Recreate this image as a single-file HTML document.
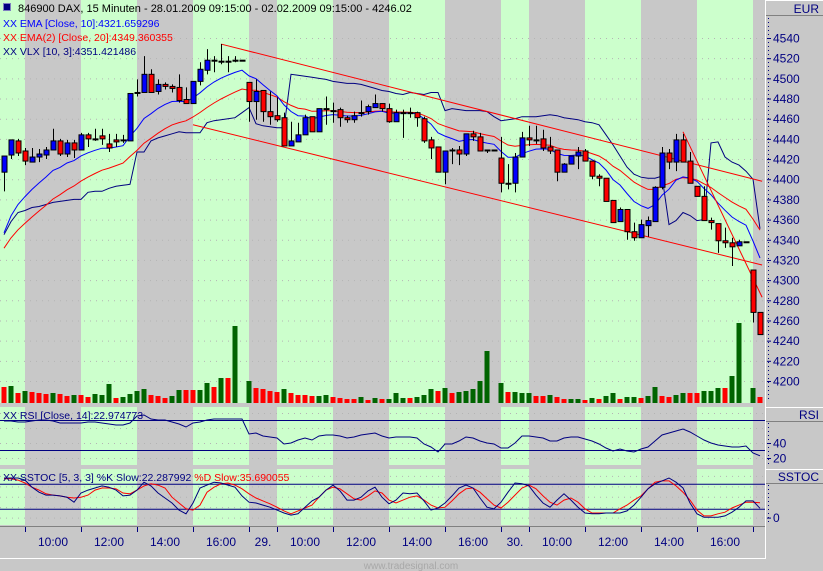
<!DOCTYPE html>
<html><head><meta charset="utf-8">
<style>
body{margin:0;width:823px;height:571px;overflow:hidden;background:#c8c8c8;font-family:"Liberation Sans",Arial,sans-serif;}
svg{display:block}
</style></head>
<body>
<svg id="chart" width="823" height="571" xmlns="http://www.w3.org/2000/svg"></svg>
<script>
const opens=[4407,4424,4438,4428,4417,4422,4424,4429,4438,4425,4436,4429,4444,4440,4443,4435,4439,4439,4438,4486,4486,4504,4487,4494,4492,4491,4479,4475,4497,4508,4518,4517,4517,4518,4518,4496,4477,4488,4467,4463,4461,4433,4437,4444,4462,4447,4470,4468,4469,4461,4459,4466,4467,4471,4475,4470,4457,4466,4466,4466,4460,4439,4432,4407,4429,4429,4425,4445,4442,4429,4429,4421,4396,4396,4422,4441,4439,4440,4432,4429,4407,4415,4423,4428,4418,4403,4401,4379,4358,4370,4348,4342,4354,4358,4392,4426,4417,4439,4418,4393,4383,4359,4356,4339,4337,4334,4338,4310,4268];
const highs=[4423,4439,4440,4431,4431,4430,4432,4450,4440,4439,4439,4446,4446,4450,4450,4445,4445,4444,4485,4499,4522,4509,4499,4496,4494,4504,4491,4497,4516,4529,4522,4534,4522,4522,4518,4496,4499,4488,4487,4481,4466,4457,4456,4464,4462,4470,4482,4476,4471,4463,4467,4478,4474,4484,4475,4475,4469,4469,4471,4467,4462,4442,4432,4428,4431,4433,4445,4448,4446,4429,4429,4442,4415,4426,4447,4453,4453,4449,4442,4429,4416,4423,4432,4430,4418,4405,4401,4379,4372,4370,4357,4360,4363,4393,4432,4430,4445,4445,4427,4393,4393,4362,4356,4352,4342,4340,4338,4310,4268];
const lows=[4388,4420,4423,4414,4417,4417,4420,4429,4423,4422,4421,4429,4432,4438,4434,4427,4432,4436,4438,4482,4486,4486,4484,4489,4486,4476,4475,4475,4493,4504,4506,4514,4506,4516,4518,4457,4459,4457,4454,4457,4433,4433,4437,4444,4447,4447,4454,4456,4452,4456,4456,4462,4464,4471,4467,4456,4457,4441,4461,4452,4436,4420,4407,4395,4415,4414,4423,4438,4428,4426,4429,4387,4390,4387,4422,4433,4435,4428,4425,4398,4407,4415,4410,4418,4400,4393,4378,4357,4358,4340,4339,4342,4343,4358,4390,4410,4408,4417,4396,4383,4359,4350,4327,4332,4314,4334,4338,4258,4246];
const closes=[4423,4439,4426,4418,4422,4425,4429,4438,4425,4436,4429,4444,4440,4440,4440,4431,4437,4439,4485,4486,4504,4486,4494,4492,4490,4478,4475,4497,4509,4518,4518,4517,4517,4518,4518,4477,4487,4467,4462,4459,4433,4438,4444,4461,4447,4470,4470,4468,4461,4459,4463,4466,4472,4475,4470,4457,4466,4466,4466,4461,4438,4431,4407,4428,4429,4425,4445,4442,4428,4429,4429,4396,4396,4422,4441,4439,4439,4431,4428,4407,4415,4423,4427,4418,4403,4401,4378,4357,4370,4348,4342,4355,4359,4392,4426,4417,4439,4417,4396,4383,4359,4357,4339,4337,4333,4338,4338,4268,4246];
const volumes=[1600,1700,1000,1200,1100,1000,900,1000,900,700,800,800,600,900,800,1900,500,600,900,1200,1400,800,700,500,700,1300,1300,1300,1300,2000,1600,2500,2500,7700,0,2200,1500,1400,1200,1100,1400,1000,800,800,700,700,800,600,500,400,400,600,300,500,400,400,1000,500,500,600,800,1400,1200,1500,1000,1100,1200,1400,2200,5200,0,2000,1100,1100,1000,1000,700,700,800,600,400,400,400,300,500,400,700,1000,400,600,600,500,700,1600,700,600,800,1000,1000,1000,1200,1200,1500,1500,2700,8000,0,1500,600];
const volUp=[0,1,0,1,0,0,0,1,0,0,1,0,0,1,1,1,0,1,1,1,1,0,0,0,1,1,0,0,1,1,0,1,0,1,0,1,0,0,0,0,1,0,0,0,0,1,1,0,0,0,0,1,0,1,0,1,1,1,0,1,1,1,0,1,0,1,1,1,1,1,0,1,0,1,1,1,0,0,1,0,0,1,1,0,1,0,1,1,0,1,1,0,1,1,0,0,1,1,0,0,1,1,1,0,1,1,0,1,0];
const vlx=[4345,4358,4367,4369,4372,4373,4375,4377,4378,4379,4380,4380,4387,4388,4388,4391,4393,4394,4395,4427,4427,4438,4441,4443,4445,4447,4446,4446,4446,4456,4458,4459,4460,4461,4466,4471,4455,4453,4452,4451,4451,4504,4503,4502,4501,4500,4499,4497,4496,4495,4495,4494,4492,4490,4488,4487,4485,4484,4486,4485,4484,4486,4486,4468,4470,4469,4468,4468,4468,4467,4462,4458,4459,4460,4462,4462,4462,4463,4464,4463,4461,4460,4459,4457,4456,4454,4444,4434,4423,4412,4405,4402,4401,4401,4403,4355,4359,4367,4364,4359,4360,4436,4437,4422,4417,4414,4408,4400,4351];
const rsi=[69.3,69.3,68,68,69.3,70.7,70.7,69.3,66.7,66.7,66.7,66.7,68,68,66.7,65.3,64,64,66.7,76,77.3,72,70.7,70.7,68,65.3,61.3,66.7,68,70.7,72,72,72,72,72,52,53.3,49.3,48,46.7,38.7,40,44,46.7,44,49.3,50.7,50.7,49.3,46.7,48,50.7,52,53.3,49.3,46.7,48,48,48,46.7,38.7,34.7,28,38.7,38.7,42.7,48,46.7,42.7,40,38.7,33.3,33.3,40,49.3,49.3,48,46.7,42.7,42.7,46.7,48,48,45.3,42.7,38.7,33.3,29.3,32,29.3,28,32,34.7,42.7,50.7,53.3,56,58.7,54.7,49.3,44,40,37.3,36,34.7,34.7,36,26.7,23];
const stochK=[95,95,95,90,73,61,54,54,52,49,37,59,66,71,76,73,66,52,54,66,85,76,59,47,35,18,9,35,71,78,85,83,78,73,52,37,35,30,25,18,11,6,9,25,40,49,66,78,64,42,42,49,64,73,49,33,42,59,57,59,40,18,23,35,52,71,78,71,47,25,21,37,61,83,81,76,54,35,25,42,57,42,25,11,9,9,11,11,11,16,30,49,69,81,88,95,85,71,35,9,1,1,1,4,13,25,40,40,22.3];
const stochD=[93,93,90,83,73,66,57,54,52,49,47,49,54,66,71,71,69,59,57,66,76,81,78,71,49,35,21,18,30,61,73,81,83,78,69,57,47,40,33,25,16,9,16,23,30,49,66,73,69,57,45,42,52,64,59,42,35,42,49,52,42,30,23,25,40,57,69,71,61,45,30,23,37,54,71,78,69,52,37,30,42,47,37,21,11,11,11,11,21,30,42,52,69,85,88,88,76,61,42,18,4,4,9,13,23,30,37,37,35.7];
const priceTicks=[4540,4520,4500,4480,4460,4440,4420,4400,4380,4360,4340,4320,4300,4280,4260,4240,4220,4200];
const sessionBreaks=[3,11,19,27,35,39,47,55,63,71,75,83,91,99,107];
const timeLabels=["10:00","12:00","14:00","16:00","29.","10:00","12:00","14:00","16:00","30.","10:00","12:00","14:00","16:00"];
const upperChannel=[31,4534,108.3,4398];
const lowerChannel=[27,4454,108.3,4315];
const steepLine=[97,4447,108.3,4283];

const NS="http://www.w3.org/2000/svg";
const svg=document.getElementById('chart');
function mk(tag,parent){const e=document.createElementNS(NS,tag);(parent||svg).appendChild(e);return e;}
function set(e,o){for(const k in o)e.setAttribute(k,o[k]);return e;}
const xOf=i=>4+7*i;
const yP=p=>38+(4540-p)*1.0088;
const yV=v=>403-v/100;
const yR=v=>473-0.75*v;
const yS=v=>517.6-0.417*v;
const PLOT_R=765;

const panels=[[0,403],[407,465],[469,525]];
let bounds=[0].concat(sessionBreaks.map(b=>xOf(b))).concat([PLOT_R]);
panels.forEach(([t,b])=>{
  for(let k=0;k<bounds.length-1;k++){
    const r=mk('rect');
    
    
    set(r,{x:bounds[k],y:t,width:bounds[k+1]-bounds[k],height:b-t,fill:k%2===0?'#ccffcc':'#c8c8c8'});
  }
});
function hgrid(y){const l=mk('line');
  
  
  set(l,{x1:0,x2:PLOT_R,y1:y,y2:y,stroke:'#b4b4b4','stroke-dasharray':'1,5'});}
priceTicks.forEach(p=>hgrid(yP(p)+0.5));
[80,60,40,20].forEach(v=>hgrid(yR(v)+0.5));
[0,25,50,75,100].forEach(v=>hgrid(yS(v)+0.5));

volumes.forEach((v,i)=>{ if(!v)return; const r=mk('rect');
  
  
  set(r,{x:xOf(i)-2.5,y:yV(v),width:5,height:403-yV(v),fill:volUp[i]?'#006400':'#ff0000'});});

function poly(vals,yf,color,name,w){const pts=vals.map((v,i)=>xOf(i)+','+yf(v).toFixed(1)).join(' ');
  const p=mk('polyline');
  
  
  set(p,{points:pts,fill:'none',stroke:color,'stroke-width':w||1});}
function ema(vals,n,seed){let e=seed;return vals.map(c=>{e=e+(c-e)*2/(n+1);return e;});}
const ema10=ema(closes,10,4330), ema20=ema(closes,20,4322);
poly(vlx,yP,'#000080','vlx-line');
poly(ema20,yP,'#ff0000','ema20-line');
poly(ema10,yP,'#0000ff','ema10-line');
function tl(a,name){const l=mk('line');
  
  
  set(l,{x1:xOf(a[0]),y1:yP(a[1]),x2:xOf(a[2]),y2:yP(a[3]),stroke:'#ff0000','stroke-width':1});}
tl(upperChannel,'upper-channel-line');tl(lowerChannel,'lower-channel-line');tl(steepLine,'steep-trend-line');

closes.forEach((c,i)=>{const o=opens[i],x=xOf(i);
  const w=mk('line');
  
  
  set(w,{x1:x+0.5,x2:x+0.5,y1:yP(highs[i]),y2:yP(lows[i]),stroke:'#000'});
  if(Math.abs(o-c)<1){const d=mk('line');
    
    
    set(d,{x1:x-2.5,x2:x+3.5,y1:yP(c)+0.5,y2:yP(c)+0.5,stroke:'#000','stroke-width':2});}
  else{const r=mk('rect');
    
    
    const t=yP(Math.max(o,c)),b=yP(Math.min(o,c));
    set(r,{x:x-2,y:t,width:5,height:b-t,fill:c>o?'#0000ff':'#ff0000',stroke:'#000','stroke-width':1});}
});

[[70,'rsi-upper-level'],[30,'rsi-lower-level']].forEach(([v,n])=>{const l=mk('line');
  
  
  set(l,{x1:0,x2:PLOT_R,y1:yR(v),y2:yR(v),stroke:'#000080'});});
[[80,'stoch-upper-level'],[20,'stoch-lower-level']].forEach(([v,n])=>{const l=mk('line');
  
  
  set(l,{x1:0,x2:PLOT_R,y1:yS(v),y2:yS(v),stroke:'#000080'});});
poly(rsi,yR,'#000080','rsi-line');
poly(stochD,yS,'#ff0000','stoch-d-line');
poly(stochK,yS,'#000080','stoch-k-line');

function txt(s,x,y,opt){const t=mk('text');t.textContent=s;
  set(t,Object.assign({x:x,y:y,'font-family':'"Liberation Sans",Arial,sans-serif','font-size':12,fill:'#000080'},opt||{}));return t;}
const ra=mk('rect');


set(ra,{x:766,y:0,width:57,height:571,fill:'#c8c8c8'});
[[0,16,'EUR','price-axis-title'],[407,422,'RSI','rsi-axis-title'],[469,484,'SSTOC','sstoc-axis-title']].forEach(([t,b,s,n])=>{
  const l=mk('line');
  
  
  set(l,{x1:766,x2:823,y1:b-0.5,y2:b-0.5,stroke:'#808080'});
  const l2=mk('line');
  
  
  set(l2,{x1:766,x2:823,y1:t+0.5,y2:t+0.5,stroke:'#ffffff'});
  const tt=txt(s,819,b-3,{'text-anchor':'end','font-size':12});
  
  
});
const vl=mk('line');


set(vl,{x1:765.5,x2:765.5,y1:0,y2:558,stroke:'#ffffff'});
[[18,401],[423,464],[485,524]].forEach(([a,b])=>{const d=mk('line');
  
  
  set(d,{x1:768.5,x2:768.5,y1:a,y2:b,stroke:'#000080','stroke-dasharray':'1,3'});});
function atick(y,s,n){const l=mk('line');
  
  
  set(l,{x1:767,x2:771,y1:y+0.5,y2:y+0.5,stroke:'#000080'});
  const t=txt(s,773,y+4.5);
  
  }
priceTicks.forEach(p=>atick(yP(p),String(p),'price-tick-label'));
[40,20].forEach(v=>atick(yR(v),String(v),'rsi-tick-label'));
atick(yS(0),'0','sstoc-tick-label');

const ta=mk('line');


set(ta,{x1:0,x2:PLOT_R,y1:526.5,y2:526.5,stroke:'#808080'});
sessionBreaks.forEach(b=>{const l=mk('line');
  
  
  set(l,{x1:xOf(b)+0.5,x2:xOf(b)+0.5,y1:527,y2:532,stroke:'#000080'});});
timeLabels.forEach((s,k)=>{const x=(xOf(sessionBreaks[k])+xOf(sessionBreaks[k+1]))/2;
  const t=txt(s,x,546,{'text-anchor':'middle'});
  
  });
const bl=mk('line');


set(bl,{x1:0,x2:766,y1:558.5,y2:558.5,stroke:'#ffffff'});
const wm=txt('www.tradesignal.com',411,569,{'text-anchor':'middle',fill:'#a8a8a8','font-size':10});



const ic=mk('rect');


set(ic,{x:3.5,y:3.5,width:7,height:7,fill:'#000080',stroke:'#8080c0'});
const h=txt('846900  DAX, 15 Minuten - 28.01.2009 09:15:00 - 02.02.2009 09:15:00 - 4246.02',18,12,{fill:'#000','font-size':11,'xml:space':'preserve'});


const l1=txt('XX EMA [Close, 10]:4321.659296',3,27,{fill:'#0000ff','font-size':10.5});


const l2=txt('XX EMA(2) [Close, 20]:4349.360355',3,41,{fill:'#ff0000','font-size':10.5});


const l3=txt('XX VLX [10, 3]:4351.421486',3,55,{fill:'#000080','font-size':10.5});


const l4=txt('XX RSI [Close, 14]:22.974773',3,419,{fill:'#000080','font-size':10.5});


const l5=txt('',3,481,{fill:'#000080','font-size':10.5});


const s1=mk('tspan',l5);s1.textContent='XX SSTOC [5, 3, 3] %K Slow:22.287992 ';
const s2=mk('tspan',l5);s2.textContent='%D Slow:35.690055';s2.setAttribute('fill','#ff0000');
</script>
</body></html>
